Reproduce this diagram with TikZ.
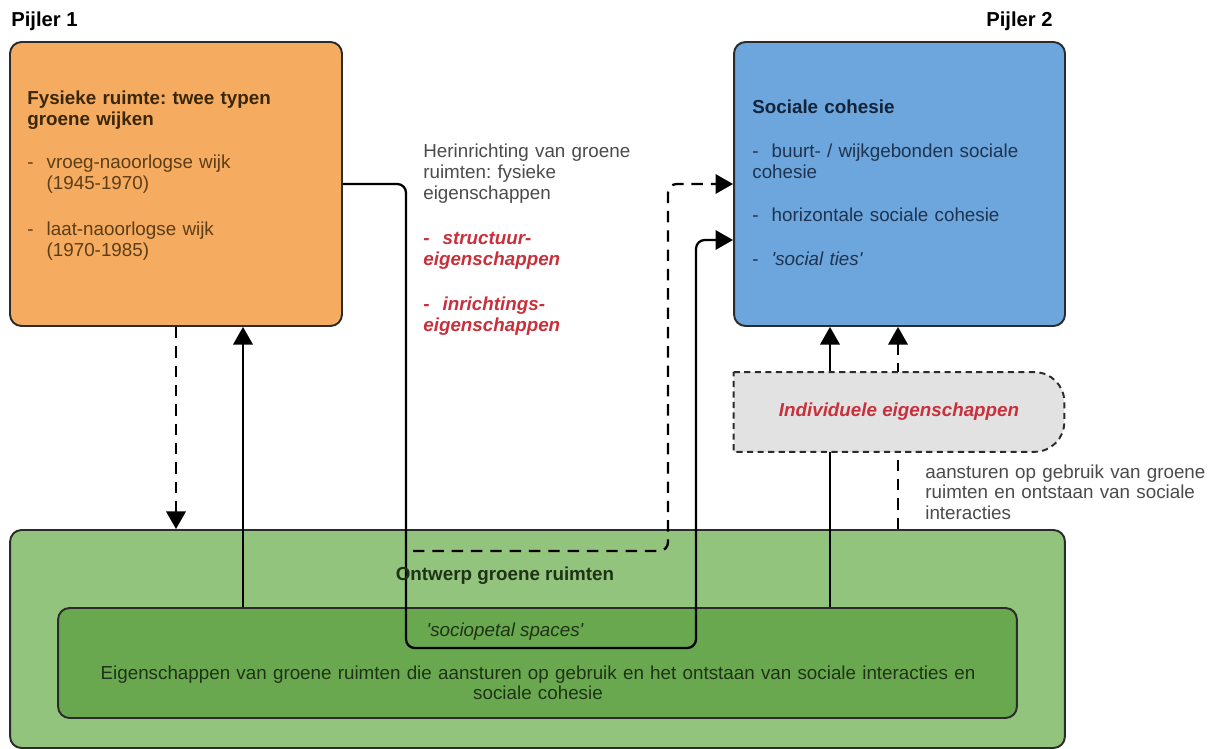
\documentclass[tikz,border=0pt]{standalone}
\usepackage{fontspec}
\setmainfont{Liberation Sans}
\usetikzlibrary{arrows.meta}

\definecolor{fysFill}{HTML}{F5AC60}
\definecolor{socFill}{HTML}{6CA6DC}
\definecolor{ontFill}{HTML}{93C47D}
\definecolor{eigFill}{HTML}{6AA84F}
\definecolor{indFill}{HTML}{E2E2E2}
\definecolor{lineC}{HTML}{2B2B2B}
\definecolor{redT}{HTML}{C8303C}
\definecolor{greyT}{HTML}{4A4A4A}
\definecolor{fysT}{HTML}{5C3D17}
\definecolor{fysH}{HTML}{3A2708}
\definecolor{socT}{HTML}{1F3350}
\definecolor{socH}{HTML}{14233A}
\definecolor{ontT}{HTML}{1E3316}

\newcommand{\dashitem}{\makebox[11pt][l]{-}}
\newcommand{\hang}{\hspace*{11pt}}
\newcommand{\bodyfont}{\fontsize{10.7pt}{11.9pt}\selectfont}
\frenchspacing

\begin{document}
\begin{tikzpicture}[x=0.02cm, y=-0.02cm, >={Triangle[length=10pt,width=11pt]},
		txt/.style={font=\bodyfont, inner sep=0pt},
		pillar/.style={draw=lineC, line width=1.1pt, rounded corners=6.5pt, inner sep=0pt},
		conn/.style={draw=black, line width=1.3pt},
		dconn/.style={conn, dash pattern=on 6.5pt off 4.5pt}]
	\useasboundingbox (0,0) rectangle (1216,749);

	% boxes
	\node[pillar, fill=fysFill, minimum width=6.64cm, minimum height=5.68cm] (fys) at (176,184) {};
	\node[pillar, fill=socFill, minimum width=6.62cm, minimum height=5.68cm] (soc) at (899.5,184) {};
	\node[pillar, fill=ontFill, minimum width=21.1cm, minimum height=4.36cm] (ontwerp) at (537.5,639) {};
	\node[pillar, fill=eigFill, minimum width=19.18cm, minimum height=2.2cm] (eig) at (537.5,663) {};

	% connectors
	\coordinate (bendA) at (406,648);
	\coordinate (bendB) at (696,240);
	\coordinate (dashStart) at (413,551);
	\coordinate (bendC) at (668,551);
	\coordinate (lUp) at (243,0);
	\coordinate (rUp) at (830,0);
	\coordinate (rDash) at (898,0);
	\draw[conn, ->, rounded corners=5pt] (fys.east) -| (bendA) -| (bendB) -- (soc.west |- bendB);
	\draw[dconn, ->, rounded corners=5pt] (dashStart) -- (bendC) |- (soc.west);
	\draw[dconn, ->] (fys.south) -- (fys.south |- ontwerp.north);
	\draw[conn, ->] (lUp |- eig.north) -- (lUp |- fys.south);
	\draw[conn, ->] (rUp |- eig.north) -- (rUp |- soc.south);
	\draw[dconn, ->] (rDash |- ontwerp.north) -- (rDash |- soc.south);

	% individuele eigenschappen, flat left side, round right side
	\node[inner sep=0pt, minimum width=6.6cm, minimum height=1.58cm, font=\bodyfont, text=redT] (indiv) at (899,412) {};
	\draw[draw=lineC, line width=1.1pt, dash pattern=on 3.5pt off 2.5pt, fill=indFill]
		(indiv.north west) -- ([xshift=-17pt]indiv.north east) arc[start angle=90, end angle=0, radius=17pt]
		-- ([yshift=17pt]indiv.south east) arc[start angle=0, end angle=-90, radius=17pt]
		-- (indiv.south west) -- cycle;
	\node[txt, text=redT] (indivLbl) at (indiv.center) {\bfseries\itshape Individuele eigenschappen};

	% texts
	\node[txt, font=\fontsize{11.5pt}{13pt}\selectfont\bfseries, anchor=base west] (pijler1) at (11,27) {Pijler 1};
	\node[txt, font=\fontsize{11.5pt}{13pt}\selectfont\bfseries, anchor=base east] (pijler2) at (1053,27) {Pijler 2};
	\node[txt, text=fysT, text width=6cm, align=left, anchor=base west] (fysTxt) at (27,105)
		{{\color{fysH}\bfseries Fysieke ruimte: twee typen\\groene wijken}\\[12.5pt]
		\dashitem vroeg-naoorlogse wijk\\\hang(1945-1970)\\[14pt]
		\dashitem laat-naoorlogse wijk\\\hang(1970-1985)};
	\node[txt, text=socT, text width=6cm, align=left, anchor=base west] (socTxt) at (752,114)
		{{\color{socH}\bfseries Sociale cohesie}\\[13pt]
		\dashitem buurt- / wijkgebonden sociale\\cohesie\\[12.5pt]
		\dashitem horizontale sociale cohesie\\[13pt]
		\dashitem\textit{\textquotesingle social ties\textquotesingle}};
	\node[txt, text=greyT, text width=5cm, align=left, anchor=base west] (herTxt) at (423,158)
		{Herinrichting van groene\\ruimten: fysieke\\eigenschappen\\[13.5pt]
		{\color{redT}\bfseries\itshape\dashitem structuur-\\eigenschappen\\[14pt]
		\dashitem inrichtings-\\eigenschappen}};
	\node[txt, text=greyT, text width=6cm, align=left, anchor=base west] (aanTxt) at (925,478)
		{aansturen op gebruik van groene\\ruimten en ontstaan van sociale\\interacties};
	\node[txt, font=\bodyfont\bfseries, text=ontT, anchor=base] (ontLbl) at (505,580) {Ontwerp groene ruimten};
	\node[txt, text=ontT, anchor=base] (socioLbl) at (505,636) {\itshape\textquotesingle sociopetal spaces\textquotesingle};
	\node[txt, text=ontT, text width=18.5cm, align=center, anchor=base] (eigTxt) at (538,679)
		{Eigenschappen van groene ruimten die aansturen op gebruik en het ontstaan van sociale interacties en\\sociale cohesie};
\end{tikzpicture}
\end{document}
